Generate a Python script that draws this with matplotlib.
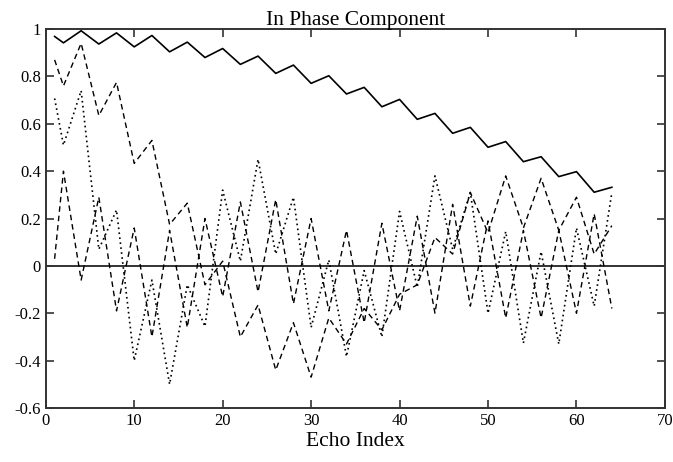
import numpy as np
import matplotlib.pyplot as plt

plt.rcParams['font.family'] = ['Liberation Serif', 'DejaVu Serif']

# echo indices where the curves change direction (odd echoes lie on the straight segments)
echo = [1] + list(range(2, 65, 2))

# solid curve: slowly decaying zig-zag
solid = [0.969, 0.942, 0.993, 0.937, 0.984, 0.925, 0.973, 0.904, 0.945, 0.880, 0.918,
         0.851, 0.886, 0.813, 0.848, 0.771, 0.803, 0.726, 0.754, 0.672, 0.703, 0.619,
         0.644, 0.560, 0.585, 0.501, 0.525, 0.440, 0.461, 0.377, 0.398, 0.311, 0.332]

# dashed curve with slow oscillation
dashed_slow = [0.87, 0.76, 0.94, 0.635, 0.775, 0.433, 0.53, 0.175, 0.265, -0.08, 0.02,
               -0.30, -0.165, -0.44, -0.24, -0.47, -0.22, -0.33, -0.18, -0.27, -0.12,
               -0.08, 0.12, 0.05, 0.31, 0.14, 0.38, 0.16, 0.37, 0.15, 0.29, 0.05, 0.17]

# dotted curve with medium oscillation
dotted = [0.707, 0.51, 0.74, 0.07, 0.236, -0.40, -0.06, -0.50, -0.08, -0.256, 0.32,
          0.02, 0.45, 0.05, 0.29, -0.26, 0.025, -0.383, -0.02, -0.30, 0.23, -0.09,
          0.38, 0.07, 0.31, -0.20, 0.145, -0.326, 0.06, -0.33, 0.16, -0.17, 0.31]

# dashed curve with fast alternation
dashed_fast = [0.03, 0.40, -0.06, 0.29, -0.19, 0.16, -0.30, 0.15, -0.26, 0.20, -0.13,
               0.27, -0.11, 0.28, -0.16, 0.20, -0.19, 0.15, -0.24, 0.18, -0.19, 0.21,
               -0.20, 0.26, -0.17, 0.19, -0.22, 0.15, -0.22, 0.15, -0.20, 0.22, -0.18]

x_ticks = [0, 10, 20, 30, 40, 50, 60, 70]
y_ticks = [-0.6, -0.4, -0.2, 0, 0.2, 0.4, 0.6, 0.8, 1]
y_labels = ['-0.6', '-0.4', '-0.2', '0', '0.2', '0.4', '0.6', '0.8', '1']

fig = plt.figure(figsize=(6.73, 4.62), dpi=100)
ax = fig.add_axes([0.068, 0.117, 0.92, 0.82])

ax.axhline(0, color='#333333', lw=1.4)
ax.plot(echo, solid, color='black', lw=1.2)
ax.plot(echo, dashed_slow, color='black', lw=1.0, dashes=(4, 2.8))
ax.plot(echo, dotted, color='black', lw=1.2, dashes=(1, 2))
ax.plot(echo, dashed_fast, color='black', lw=1.0, dashes=(4, 2.8))

ax.set_xlim(0, 70)
ax.set_ylim(-0.6, 1)
ax.set_xticks(x_ticks)
ax.set_yticks(y_ticks)
ax.set_yticklabels(y_labels)
ax.tick_params(direction='in', top=True, right=True, length=6, width=1.2,
               colors='#333333', labelcolor='black', labelsize=12)
for s in ax.spines.values():
    s.set_color('#333333')
    s.set_linewidth(1.4)

ax.set_title('In Phase Component', fontsize=15.5, pad=3)
ax.set_xlabel('Echo Index', fontsize=15.5, labelpad=2)

fig.savefig('out.png', dpi=100)
